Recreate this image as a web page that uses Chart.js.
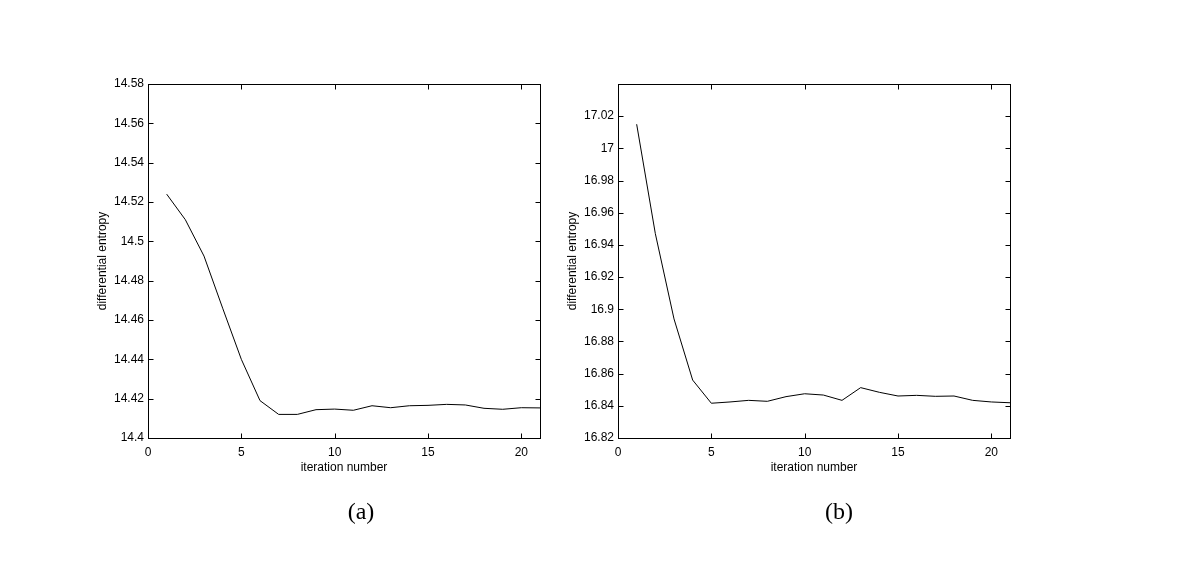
<!DOCTYPE html>
<html>
<head>
<meta charset="utf-8">
<script src="https://cdn.jsdelivr.net/npm/chart.js@4.4.0/dist/chart.umd.min.js"></script>
<style>
  html, body { margin: 0; padding: 0; background: #fff; }
  #page { position: relative; width: 1200px; height: 576px; overflow: hidden; background: #fff; }
  .panel { position: absolute; top: 0; width: 600px; height: 576px; }
  .caption { position: absolute; top: 498px; width: 80px; margin-left: -40px; text-align: center;
             font-family: "Liberation Serif", "DejaVu Serif", serif; font-size: 24px; color: #000; }
</style>
</head>
<body>
<div id="page">
  <div class="panel" style="left:0"><canvas id="chartA" width="600" height="576"></canvas></div>
  <div class="panel" style="left:470px"><canvas id="chartB" width="600" height="576"></canvas></div>
  <div class="caption" style="left:361px">(a)</div>
  <div class="caption" style="left:839px">(b)</div>
</div>
<script>
// iterations shared by both panels
const iterations = [1, 2, 3, 4, 5, 6, 7, 8, 9, 10, 11, 12, 13, 14, 15, 16, 17, 18, 19, 20, 21];

// panel (a)
const entropyA = [14.524, 14.511, 14.4925, 14.466, 14.440, 14.419, 14.412, 14.412, 14.4144, 14.4147, 14.4141,
                  14.4164, 14.4154, 14.4164, 14.4166, 14.4171, 14.4168, 14.4151, 14.4146, 14.4154, 14.4153];
// panel (b)
const entropyB = [17.015, 16.947, 16.894, 16.856, 16.8416, 16.8424, 16.8434, 16.8428, 16.8457, 16.8475, 16.8467,
                  16.8434, 16.8513, 16.8484, 16.8461, 16.8465, 16.8459, 16.8461, 16.8434, 16.8424, 16.8419];

const xTicks = [0, 5, 10, 15, 20];
const yTicksA = [14.4, 14.42, 14.44, 14.46, 14.48, 14.5, 14.52, 14.54, 14.56, 14.58];
const yTicksB = [16.82, 16.84, 16.86, 16.88, 16.9, 16.92, 16.94, 16.96, 16.98, 17, 17.02];

const xTitle = 'iteration number';
const yTitle = 'differential entropy';
const FONT = '"Liberation Sans", Arial, Helvetica, sans-serif';

// MATLAB-ish frame: box, inward ticks on all four sides, axis titles
const matlabFrame = {
  id: 'matlabFrame',
  afterDraw(chart) {
    const ctx = chart.ctx;
    const a = chart.chartArea;
    const xs = chart.scales.x, ys = chart.scales.y;
    const L = Math.round(a.left) + 0.5, R = Math.round(a.right) + 0.5;
    const T = Math.round(a.top) + 0.5, B = Math.round(a.bottom) + 0.5;
    const tl = 5;
    ctx.save();
    ctx.strokeStyle = '#000';
    ctx.lineWidth = 1;
    ctx.strokeRect(L, T, R - L, B - T);
    ctx.beginPath();
    xs.ticks.forEach(t => {
      const px = Math.round(xs.getPixelForValue(t.value)) + 0.5;
      ctx.moveTo(px, B); ctx.lineTo(px, B - tl);
      ctx.moveTo(px, T); ctx.lineTo(px, T + tl);
    });
    ys.ticks.forEach(t => {
      const py = Math.round(ys.getPixelForValue(t.value)) + 0.5;
      ctx.moveTo(L, py); ctx.lineTo(L + tl, py);
      ctx.moveTo(R, py); ctx.lineTo(R - tl, py);
    });
    ctx.stroke();

    ctx.fillStyle = '#000';
    ctx.font = '12px ' + FONT;
    ctx.textAlign = 'center';
    ctx.textBaseline = 'middle';
    ctx.fillText(xTitle, (a.left + a.right) / 2, 468);
    ctx.translate(a.left - 45, (a.top + a.bottom) / 2);
    ctx.rotate(-Math.PI / 2);
    ctx.fillText(yTitle, 0, 0);
    ctx.restore();
  }
};

function makeChart(id, values, yMin, yMax, yTicks) {
  return new Chart(document.getElementById(id), {
    type: 'line',
    data: {
      datasets: [{
        data: iterations.map((it, i) => ({ x: it, y: values[i] })),
        borderColor: '#000',
        borderWidth: 1,
        pointRadius: 0,
        tension: 0,
        fill: false
      }]
    },
    options: {
      responsive: false,
      animation: false,
      devicePixelRatio: 1,
      layout: { padding: { left: 88, top: 84, right: 60, bottom: 108 } },
      plugins: { legend: { display: false }, tooltip: { enabled: false } },
      scales: {
        x: {
          type: 'linear', min: 0, max: 21,
          afterBuildTicks: s => { s.ticks = xTicks.map(v => ({ value: v })); },
          afterFit: s => { s.height = 30; },
          grid: { display: false, drawTicks: false },
          border: { display: false },
          ticks: { color: '#000', font: { family: FONT, size: 12 }, padding: 7, maxRotation: 0,
                   callback: v => String(v) }
        },
        y: {
          type: 'linear', min: yMin, max: yMax,
          afterBuildTicks: s => { s.ticks = yTicks.map(v => ({ value: v })); },
          afterFit: s => { s.width = 60; },
          grid: { display: false, drawTicks: false },
          border: { display: false },
          ticks: { color: '#000', font: { family: FONT, size: 12 }, padding: 4,
                   callback: v => String(parseFloat(Number(v).toFixed(4))) }
        }
      }
    },
    plugins: [matlabFrame]
  });
}

makeChart('chartA', entropyA, 14.4, 14.58, yTicksA);
makeChart('chartB', entropyB, 16.82, 17.04, yTicksB);
</script>
</body>
</html>
